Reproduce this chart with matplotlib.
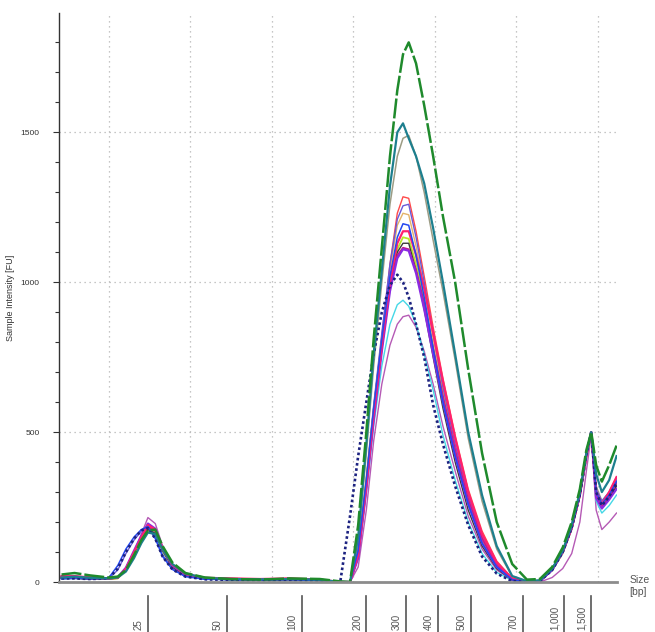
import numpy as np
import matplotlib.pyplot as plt
import matplotlib.transforms as mtransforms

plt.rcParams['font.family'] = ['Liberation Sans', 'DejaVu Sans']

# migration time (grid every 10 units), shared by every trace
x = [14.2, 15.8, 17.7, 20.0, 21.1, 22.1, 23.1, 24.0, 24.8, 25.7,
     26.6, 27.8, 29.4, 31.8, 34.9, 38.6, 42.2, 45.9, 48.4, 49.6,
     50.6, 51.6, 52.5, 53.5, 54.5, 55.4, 56.1, 56.8, 57.7, 58.7,
     59.8, 61.0, 62.5, 64.1, 65.8, 67.6, 69.5, 71.3, 72.9, 74.4,
     75.7, 76.8, 77.8, 78.6, 79.2, 79.8, 80.5, 81.4, 82.3]

# ladder sizes and their positions on the time axis
size_labels = ['25', '50', '100', '200', '300', '400', '500', '700', '1,000', '1,500']
size_pos = [24.83, 34.47, 43.69, 51.61, 56.50, 60.44, 64.44, 70.80, 75.82, 79.14]

# sample intensity [FU] for each sample
orchid = [14, 14, 12, 10, 12, 42, 100, 160, 215, 195, 120, 58, 26, 12, 10, 8, 10, 6, 0, 0,
          50, 240, 470, 660, 790, 860, 885, 890, 850, 770, 660, 520, 370, 220, 110, 40, 6,
          0, 0, 15, 45, 95, 200, 370, 490, 240, 175, 200, 230]
cyan = [10, 12, 10, 10, 13, 40, 92, 140, 170, 158, 100, 50, 22, 10, 8, 7, 8, 5, 0, 0,
        80, 300, 520, 720, 860, 925, 940, 920, 860, 760, 640, 490, 340, 200, 95, 32, 5,
        0, 3, 38, 95, 175, 285, 415, 490, 270, 230, 255, 290]
tan = [14, 15, 12, 10, 13, 42, 95, 145, 178, 165, 105, 52, 24, 12, 9, 8, 9, 6, 0, 0,
       100, 340, 580, 810, 1040, 1190, 1230, 1225, 1120, 980, 810, 640, 450, 280, 150, 55, 8,
       0, 3, 38, 95, 175, 285, 415, 495, 290, 250, 280, 320]
gray = [12, 14, 10, 10, 14, 40, 95, 145, 175, 165, 110, 55, 25, 12, 9, 8, 8, 6, 0, 0,
        130, 430, 720, 1000, 1260, 1420, 1480, 1490, 1420, 1300, 1140, 970, 740, 480, 270, 110, 18,
        2, 5, 40, 100, 185, 295, 420, 495, 320, 270, 300, 350]
red = [20, 18, 16, 12, 14, 45, 100, 150, 185, 170, 110, 55, 25, 14, 12, 10, 12, 8, 0, 0,
       100, 340, 580, 820, 1060, 1230, 1285, 1280, 1170, 1020, 850, 680, 490, 310, 170, 70, 12,
       0, 4, 40, 100, 180, 290, 420, 495, 300, 260, 290, 340]
slate = [10, 12, 10, 12, 40, 95, 140, 170, 185, 150, 90, 45, 20, 10, 8, 7, 8, 6, 0, 0,
         110, 350, 590, 830, 1060, 1210, 1255, 1260, 1150, 1000, 830, 650, 460, 290, 150, 60, 10,
         0, 3, 40, 100, 180, 290, 425, 500, 310, 270, 300, 340]
lime = [16, 15, 13, 10, 12, 40, 92, 142, 172, 160, 105, 52, 24, 12, 10, 8, 9, 6, 0, 0,
        100, 340, 570, 800, 1000, 1110, 1150, 1145, 1060, 940, 780, 620, 430, 260, 140, 50, 8,
        0, 3, 40, 98, 178, 288, 418, 495, 295, 255, 285, 330]
dark = [12, 12, 10, 10, 14, 42, 95, 145, 175, 162, 105, 50, 22, 10, 8, 7, 8, 5, 0, 0,
        100, 330, 560, 790, 990, 1100, 1130, 1130, 1040, 910, 750, 580, 400, 240, 120, 45, 6,
        0, 3, 40, 100, 180, 290, 420, 495, 290, 250, 280, 320]
magenta = [20, 18, 15, 12, 14, 44, 100, 150, 185, 172, 110, 55, 25, 13, 10, 9, 10, 7, 0, 0,
           85, 320, 550, 780, 980, 1090, 1115, 1110, 1040, 930, 780, 620, 440, 275, 145, 55, 10,
           0, 3, 40, 100, 180, 290, 420, 498, 290, 250, 285, 330]
violet = [14, 15, 12, 12, 16, 48, 105, 155, 195, 178, 112, 55, 24, 12, 10, 8, 10, 6, 0, 0,
          80, 310, 540, 770, 970, 1080, 1110, 1105, 1030, 910, 760, 600, 420, 260, 130, 50, 8,
          0, 3, 40, 100, 180, 290, 420, 500, 280, 245, 275, 310]
pink = [18, 20, 15, 12, 14, 45, 100, 150, 190, 175, 112, 58, 26, 14, 12, 10, 12, 8, 0, 0,
        90, 320, 560, 790, 1000, 1130, 1170, 1170, 1090, 980, 830, 670, 480, 300, 160, 65, 12,
        0, 4, 42, 100, 180, 290, 420, 500, 300, 260, 300, 350]
blue = [12, 14, 11, 14, 55, 110, 150, 175, 185, 145, 85, 42, 18, 9, 8, 7, 8, 5, 0, 0,
        105, 340, 580, 810, 1020, 1150, 1195, 1190, 1090, 950, 780, 600, 420, 260, 130, 50, 8,
        0, 3, 40, 100, 182, 292, 425, 500, 300, 260, 290, 335]
navy = [12, 12, 10, 12, 45, 100, 145, 172, 180, 145, 85, 42, 18, 9, 7, 6, 7, 5, 0, 220,
        420, 600, 760, 900, 990, 1025, 1000, 950, 860, 750, 590, 460, 320, 190, 85, 28, 3,
        0, 3, 40, 100, 182, 292, 425, 500, 300, 255, 285, 330]
teal = [15, 18, 14, 12, 15, 35, 80, 130, 165, 160, 110, 60, 28, 14, 10, 9, 10, 8, 0, 0,
        150, 460, 760, 1040, 1320, 1500, 1530, 1480, 1420, 1330, 1180, 1000, 760, 500, 290, 120, 20,
        3, 6, 45, 105, 190, 300, 430, 500, 360, 300, 340, 420]
green = [25, 30, 22, 15, 18, 40, 90, 140, 172, 175, 120, 65, 30, 15, 10, 8, 12, 10, 2, 0,
         190, 500, 810, 1115, 1420, 1640, 1760, 1800, 1730, 1590, 1420, 1220, 1000, 710, 430, 200, 60,
         8, 10, 50, 115, 200, 310, 440, 500, 390, 335, 390, 455]

traces = [
    (orchid, '#b55ab5', 1.0, '-'),
    (cyan, '#45d8e6', 1.0, '-'),
    (tan, '#e3b36a', 1.0, '-'),
    (gray, '#9c9c84', 1.1, '-'),
    (red, '#ff4a4a', 1.0, '-'),
    (slate, '#6a5ad8', 1.0, '-'),
    (lime, '#b8e62a', 1.3, '-'),
    (dark, '#3c3c3c', 1.0, '-'),
    (magenta, '#c2188a', 1.3, '-'),
    (violet, '#8a2be2', 1.6, '-'),
    (pink, '#ff2070', 1.6, '-'),
    (blue, '#2448f0', 1.1, '-'),
    (navy, '#1c2280', 1.9, (0, (1, 1))),
    (teal, '#1d7f8e', 1.6, '-'),
    (green, '#1f8a2c', 1.8, (0, (8, 1.2))),
]

fig = plt.figure(figsize=(6.55, 6.32), dpi=100)
ax = fig.add_axes([0.0901, 0.0791, 0.8519, 0.9003])

for y, c, lw, ls in traces:
    ax.plot(x, y, color=c, lw=lw, linestyle=ls)

ax.set_xlim(13.89, 82.36)
ax.set_ylim(0, 1898)

# grid on the time axis, ladder sizes drawn below the axis
ax.set_xticks(np.arange(20, 81, 10), minor=True)
ax.set_xticks([])
ax.tick_params(axis='x', which='both', length=0, labelbottom=False)
ax.xaxis.grid(True, which='minor', linestyle=(0, (1, 3)), color='#b4b4b4', lw=0.9)

ax.set_yticks([0, 500, 1000, 1500])
ax.set_yticks(np.arange(0, 1900, 100), minor=True)
ax.tick_params(axis='y', which='major', length=4, width=0.8, color='#333333',
               labelsize=6, labelcolor='#333333', pad=10)
ax.tick_params(axis='y', which='minor', length=3, width=0.8, color='#333333')
ax.yaxis.grid(True, which='major', linestyle=(0, (1, 3)), color='#b4b4b4', lw=0.9)

ax.spines['top'].set_visible(False)
ax.spines['right'].set_visible(False)
ax.spines['left'].set_color('#333333')
ax.spines['left'].set_linewidth(1.0)
ax.spines['bottom'].set_color('#8c8c8c')
ax.spines['bottom'].set_linewidth(2.0)

trans = mtransforms.blended_transform_factory(ax.transData, ax.transAxes)
for pos, lab in zip(size_pos, size_labels):
    ax.plot([pos, pos], [-0.0246, -0.09], color='#555555', lw=1.2,
            transform=trans, clip_on=False)
    ax.annotate(lab, xy=(pos, -0.084), xycoords=trans, xytext=(-3, 0),
                textcoords='offset points', rotation=90, ha='right', va='bottom',
                fontsize=7, color='#555555')

ax.set_ylabel('Sample Intensity [FU]', fontsize=6.5, color='#333333')
ax.yaxis.set_label_coords(-0.079, 0.5)
fig.text(0.961, 0.073, 'Size\n[bp]', fontsize=7.5, color='#555555',
         ha='left', va='center', linespacing=1.3)

fig.savefig('out.png', dpi=100)
